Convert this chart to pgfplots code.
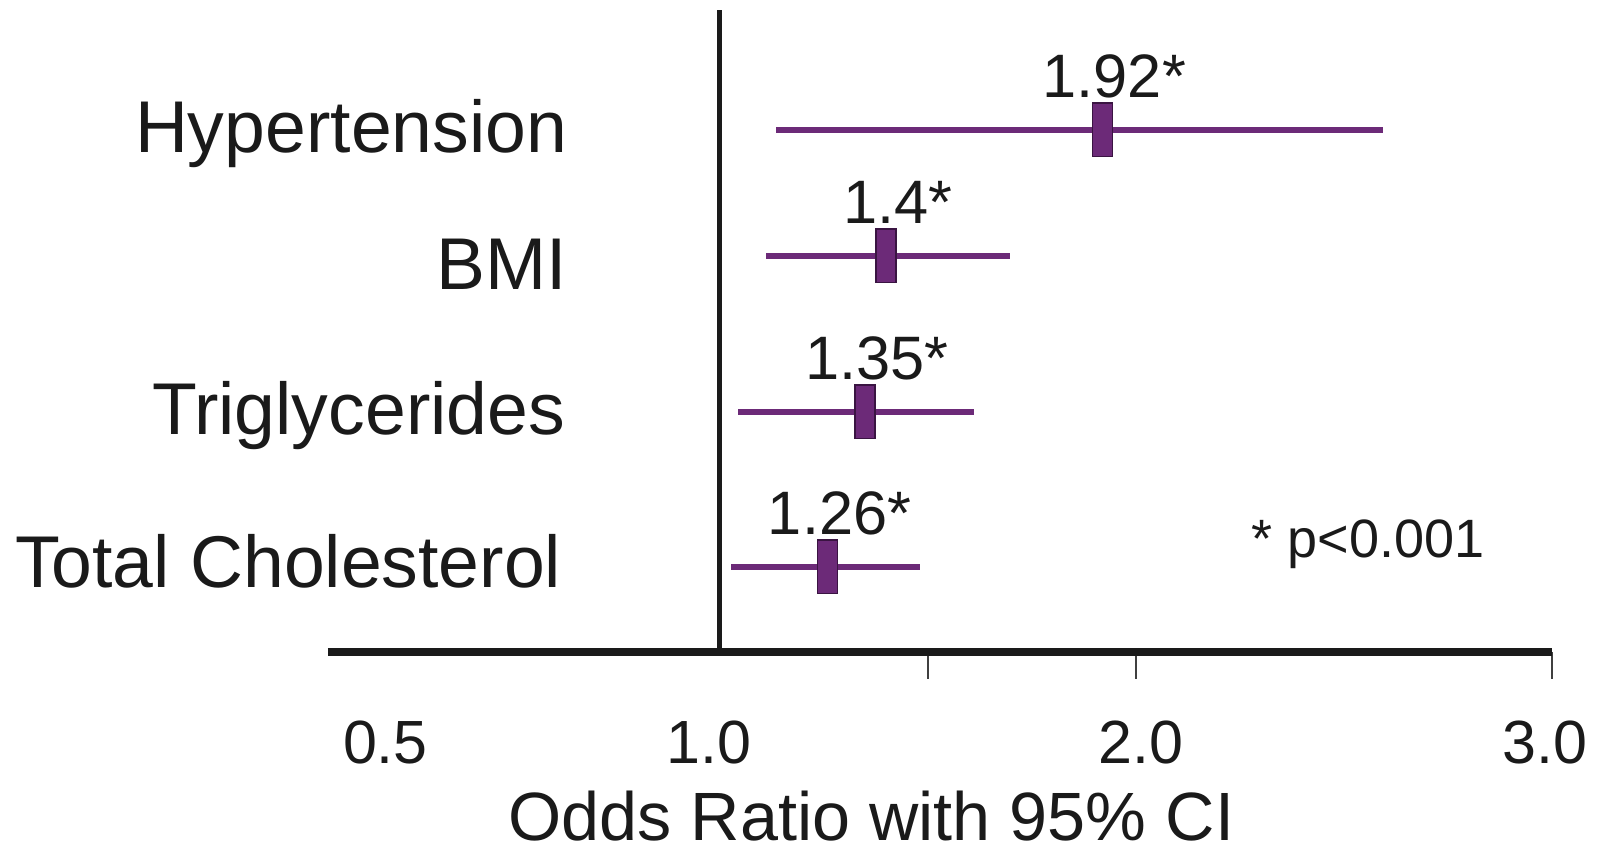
\documentclass[border=0pt]{standalone}
\usepackage{fontspec}
\setmainfont{Liberation Sans}
\usepackage{pgfplots}
\usepackage{pgfplotstable}
\pgfplotsset{compat=1.18}

\definecolor{orpurple}{RGB}{108,42,120}
\definecolor{oredge}{RGB}{58,20,66}
\definecolor{ink}{RGB}{26,26,26}

% odds ratios with 95% confidence limits; y is the row height
\pgfplotstableread{
y   x    lo    hi    lab
522 1.92 1.135 2.595 1.92
396 1.40 1.111 1.699 1.4
240 1.35 1.046 1.612 1.35
85  1.26 1.027 1.482 1.26
}\ordata

\begin{document}
\begin{tikzpicture}
\useasboundingbox (-98.4pt,-60.9pt) rectangle (380.7pt,195.6pt);
\begin{axis}[
  at={(0,0)}, anchor=south west,
  scale only axis, width=367.2pt, height=192.6pt,
  xmin=0.06, xmax=3.0, ymin=0, ymax=642,
  axis x line=bottom, axis y line=none,
  x axis line style={-, line width=2.4pt, color=ink},
  % labels sit where the printed scale puts them; tick marks are the minor ticks
  xtick={0.198,0.976,2.012,2.983}, xticklabels={0.5,1.0,2.0,3.0},
  minor xtick={1.5,2,3},
  major tick length=0pt, minor tick length=8pt,
  tick align=outside,
  minor tick style={line width=0.6pt, color=black!75},
  xticklabel style={anchor=north, inner sep=0pt, yshift=-20.4pt, text=ink,
    font=\fontsize{18.3}{22}\selectfont},
  /pgf/number format/assume math mode=true,
  xlabel={Odds Ratio with 95\% CI},
  xlabel style={at={(rel axis cs:0.444,0)}, anchor=north, inner sep=0pt,
    yshift=-41.6pt, text=ink, font=\fontsize{20.5}{24}\selectfont},
  clip=false,
]
% reference line at OR = 1
\addplot[ink, line width=1.7pt] coordinates {(1,0) (1,642)};

% point estimates with confidence intervals
\addplot[only marks, mark=square*, mark size=8pt,
  mark options={xscale=0.375, fill=orpurple, draw=oredge, line width=0.5pt},
  point meta=explicit symbolic,
  nodes near coords={\pgfplotspointmeta\rlap{*}},
  every node near coord/.append style={anchor=base, yshift=9.6pt, inner sep=0pt,
    text=ink, font=\fontsize{18.4}{22}\selectfont},
  error bars/.cd, x dir=both, x explicit, error mark=none,
  error bar style={line width=1.7pt, color=orpurple}]
  table[x=x, y=y, meta=lab,
    x error plus expr=\thisrow{hi}-\thisrow{x},
    x error minus expr=\thisrow{x}-\thisrow{lo}] {\ordata};

% row labels
\begin{scope}[every node/.style={anchor=base east, inner sep=0pt, text=ink,
    font=\fontsize{22}{26}\selectfont}]
\node at (axis cs:0.636,499) {Hypertension};
\node at (axis cs:0.636,362) {BMI};
\node at (axis cs:0.631,217) {Triglycerides};
\node at (axis cs:0.622,64) {Total Cholesterol};
\end{scope}

\node[anchor=base west, inner sep=0pt, text=ink, font=\fontsize{16.2}{20}\selectfont]
  at (axis cs:2.277,94) {* p<0.001};
\end{axis}
\end{tikzpicture}
\end{document}
